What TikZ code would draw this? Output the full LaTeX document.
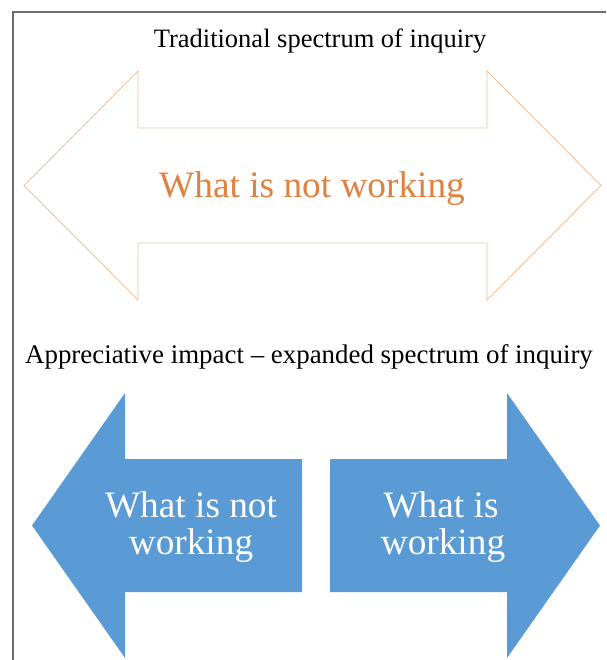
\documentclass[tikz,border=0pt]{standalone}
\usepackage{fontspec}
\setmainfont{Liberation Serif}
\definecolor{frameGray}{HTML}{6E6E6E}
\definecolor{orLine}{HTML}{F0C39E}
\definecolor{orText}{HTML}{E2803F}
\definecolor{blueFill}{HTML}{5B9BD5}
\begin{document}
\begin{tikzpicture}[x=1pt,y=-1pt,
  caption/.style={text=black, inner sep=0pt, anchor=base},
  bigtext/.style={font=\fontsize{37.3}{40}\selectfont, inner sep=0pt, anchor=base},
  outlinearrow/.style={draw=orLine, line width=0.9pt, fill=white, line join=miter},
  solidarrow/.style={fill=blueFill, draw=none}]
\useasboundingbox (0,0) rectangle (606,660);
\fill[white] (0,0) rectangle (606,660);
% frame (left and top edges)
\draw[frameGray, line width=1.3pt] (13,660) -- (13,12) -- (606,12);
% captions
\node[caption, font=\fontsize{26.5}{30}\selectfont] (cap1) at (320,48) {Traditional spectrum of inquiry};
\node[caption, font=\fontsize{26.9}{30}\selectfont] (cap2) at (309,363) {Appreciative impact -- expanded spectrum of inquiry};
% orange double arrow
\draw[outlinearrow] (24,185.5) -- (138,71) -- (138,128) -- (487,128) -- (487,71)
  -- (601,185.5) -- (487,300) -- (487,243) -- (138,243) -- (138,300) -- cycle;
\node[bigtext, text=orText] (t1) at (312,197) {What is not working};
% blue left arrow
\fill[solidarrow] (32,525.5) -- (125,393) -- (125,459) -- (302,459) -- (302,592)
  -- (125,592) -- (125,658) -- cycle;
% blue right arrow
\fill[solidarrow] (330,459) -- (507,459) -- (507,393) -- (600,525.5) -- (507,658)
  -- (507,592) -- (330,592) -- cycle;
\node[bigtext, text=white] (t2a) at (191,517) {What is not};
\node[bigtext, text=white] (t2b) at (191,554) {working};
\node[bigtext, text=white] (t3a) at (441,517) {What is};
\node[bigtext, text=white] (t3b) at (443,554) {working};
\end{tikzpicture}
\end{document}
